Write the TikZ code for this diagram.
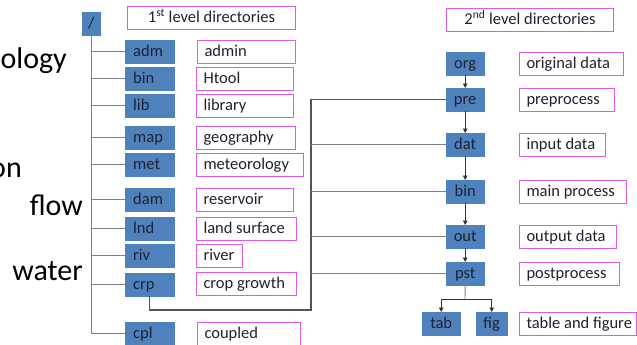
\documentclass[tikz,border=0pt]{standalone}
\usepackage{fontspec}
\setmainfont{Carlito}
\usetikzlibrary{arrows.meta}

\definecolor{dirblue}{HTML}{4F81BD}
\definecolor{dirtext}{HTML}{1E2230}
\definecolor{tagpink}{HTML}{DD5CDD}
\definecolor{wire}{HTML}{808080}
\definecolor{bus}{HTML}{555555}

% fixed-width, left-aligned text inside a tag box
\newcommand\tagin[2]{\makebox[#1pt][l]{#2}}

\tikzset{
  x=1pt, y=-1pt,
  boxfont/.style={font=\fontsize{16.5}{18}\selectfont},
  dirbox/.style={boxfont, draw=dirblue, fill=dirblue, text=dirtext,
    minimum height=23pt, inner ysep=0pt, text height=12.5pt, text depth=3.5pt,
    anchor=north west},
  leftdir/.style={dirbox, inner xsep=8pt, text width=33pt, align=left},
  rightdir/.style={dirbox, inner xsep=0pt, minimum width=38pt},
  tag/.style={boxfont, draw=tagpink, fill=white, line width=1pt, text=dirtext,
    minimum height=23pt, inner ysep=0pt, inner xsep=7pt,
    text height=12.5pt, text depth=3.5pt, anchor=north west},
  header/.style={tag, inner xsep=0pt},
  wireline/.style={draw=wire, line width=0.9pt},
  busline/.style={draw=bus, line width=1.3pt},
  arr/.style={draw=black!80, line width=0.9pt,
    -{Triangle[width=4.5pt,length=4.5pt]}},
  big/.style={font=\fontsize{30}{34}\selectfont, inner sep=0pt, anchor=base east}
}

\begin{document}
\begin{tikzpicture}
\useasboundingbox (0,0) rectangle (637,345);
\clip (0,0) rectangle (637,345);

% large words at the left edge
\node[big] (w1) at (67,69) {ology};
\node[big] (w2) at (22,177) {on};
\node[big] (w3) at (83,215) {flow};
\node[big] (w4) at (83,280) {water};

% ---- first level ----
\node[header, minimum width=168pt] (h1) at (127,6) {1\textsuperscript{st} level directories};
\node[rightdir, minimum width=18pt] (root) at (82,12) {/};

\node[leftdir] (adm) at (125,40)  {adm};
\node[leftdir] (bin) at (125,67)  {bin};
\node[leftdir] (lib) at (125,94)  {lib};
\node[leftdir] (map) at (125,126) {map};
\node[leftdir] (met) at (125,153) {met};
\node[leftdir] (dam) at (125,188) {dam};
\node[leftdir] (lnd) at (125,217) {lnd};
\node[leftdir] (riv) at (125,244) {riv};
\node[leftdir] (crp) at (125,273) {crp};
\node[leftdir] (cpl) at (125,322) {cpl};

\node[tag] (tadm) at (197,40)  {\tagin{84}{admin}};
\node[tag] (tbin) at (196,67)  {\tagin{83}{Htool}};
\node[tag] (tlib) at (196,94)  {\tagin{83}{library}};
\node[tag] (tmap) at (196,126) {\tagin{85}{geography}};
\node[tag] (tmet) at (196,153) {\tagin{93}{meteorology}};
\node[tag] (tdam) at (196,188) {\tagin{83}{reservoir}};
\node[tag] (tlnd) at (196,217) {\tagin{86}{land surface}};
\node[tag] (triv) at (196,244) {\tagin{32}{river}};
\node[tag] (tcrp) at (196,272) {\tagin{86}{crop growth}};
\node[tag] (tcpl) at (197,322) {\tagin{89}{coupled}};

% tree trunk and branches
\draw[wireline] (root.south) -- (root.south |- cpl.west) -- (cpl.west);
\foreach \n in {adm,bin,lib,map,met,dam,lnd,riv,crp}
  \draw[wireline] (root.south |- \n.west) -- (\n.west);

% ---- second level ----
\node[header, minimum width=167pt] (h2) at (446,8) {2\textsuperscript{nd} level directories};

\node[rightdir] (org) at (446,52)  {org};
\node[rightdir] (pre) at (446,88)  {pre};
\node[rightdir] (dat) at (446,133) {dat};
\node[rightdir] (bin2) at (446,180) {bin};
\node[rightdir] (out) at (446,225) {out};
\node[rightdir] (pst) at (446,262) {pst};
\node[rightdir] (tab) at (422,312) {tab};
\node[rightdir, minimum width=31pt] (fig) at (476,312) {fig};

\node[tag] (torg) at (519,52)  {\tagin{90}{original data}};
\node[tag] (tpre) at (519,88)  {\tagin{81}{preprocess}};
\node[tag] (tdat) at (519,133) {\tagin{72}{input data}};
\node[tag] (tbin2) at (519,180) {\tagin{93}{main process}};
\node[tag] (tout) at (519,225) {\tagin{83}{output data}};
\node[tag] (tpst) at (519,262) {\tagin{86}{postprocess}};
\node[tag] (ttab) at (519,312) {\tagin{103}{table and figure}};

% processing chain
\draw[arr] (org) -- (pre);
\draw[arr] (pre) -- (dat);
\draw[arr] (dat) -- (bin2);
\draw[arr] (bin2) -- (out);
\draw[arr] (out) -- (pst);

\coordinate (fork) at (465,299);
\draw[wireline] (pst.south) -- (fork);
\draw[arr] (fork) -| (tab.north);
\draw[arr] (fork) -| (fig.north);

% crp expands into the second level
\coordinate (busb) at (311,310);
\draw[busline] (crp.south) |- (busb) |- (pre.west);
\foreach \n in {dat,bin2,out,pst}
  \draw[wireline] (busb |- \n.west) -- (\n.west);
\end{tikzpicture}
\end{document}
